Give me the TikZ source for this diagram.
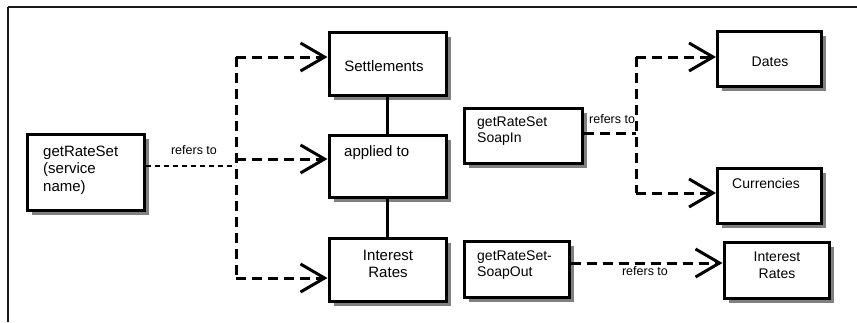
\documentclass[tikz,border=0pt]{standalone}
\usepackage{fontspec}
\setmainfont{Liberation Sans}
\usetikzlibrary{arrows.meta,shadows}
\begin{document}
\begin{tikzpicture}[x=1pt,y=-1pt,
  box/.style={draw, line width=3pt, fill=white, inner sep=0pt,
    drop shadow={shadow xshift=4.5pt, shadow yshift=-4.5pt, fill=gray, opacity=1}},
  txtA/.style={inner sep=0pt, align=left, font=\fontsize{15}{17.5}\selectfont},
  txtB/.style={inner sep=0pt, align=left, font=\fontsize{14}{16.5}\selectfont},
  txtAc/.style={inner sep=0pt, align=center, font=\fontsize{15}{17.5}\selectfont},
  txtBc/.style={inner sep=0pt, align=center, font=\fontsize{14}{16.5}\selectfont},
  lbl/.style={inner sep=0pt, font=\fontsize{12.5}{14}\selectfont},
  dref/.style={line width=3pt, dash pattern=on 10pt off 6pt},
  thinref/.style={line width=1.6pt, dash pattern=on 5pt off 4pt},
  arr/.style={-{Straight Barb[length=24pt,width=28pt]}},
  frameline/.style={line width=2.5pt, draw=black!90}
]
\useasboundingbox (0,0) rectangle (857,322);
\fill[white] (0,0) rectangle (857,322);
% frame
\draw[frameline] (8,7) -- (857,7);
\draw[frameline] (8,7) -- (8,322);

% left group
\node[box, minimum width=117pt, minimum height=76pt] (grs) at (86,172.5) {};
\node[txtA, anchor=west] (grsT) at (43,170) {getRateSet\\(service\\name)};

\node[box, minimum width=117pt, minimum height=63pt] (settle) at (387.5,63.5) {};
\node[txtAc] (settleT) at (384,66) {Settlements};

\node[box, minimum width=117pt, minimum height=62pt] (applied) at (387.5,166) {};
\node[txtA, anchor=west] (appliedT) at (344,153) {applied to};

\node[box, minimum width=117pt, minimum height=63pt] (irL) at (387.5,269.5) {};
\node[txtAc] (irLT) at (388,264) {Interest\\Rates};

\draw[line width=3pt] (settle) -- (applied);
\draw[line width=3pt] (applied) -- (irL);

% right group
\node[box, minimum width=104pt, minimum height=55pt] (dates) at (769.5,59) {};
\node[txtBc] (datesT) at (770,62) {Dates};

\node[box, minimum width=118pt, minimum height=55pt] (soapin) at (523,135.5) {};
\node[txtB, anchor=west] (soapinT) at (477,131) {getRateSet\\SoapIn};

\node[box, minimum width=104pt, minimum height=55pt] (curr) at (769.5,195.5) {};
\node[txtB, anchor=west] (currT) at (732,183) {Currencies};

\node[box, minimum width=105pt, minimum height=56pt] (soapout) at (516.5,269) {};
\node[txtB, anchor=west] (soapoutT) at (477,265) {getRateSet-\\SoapOut};

\node[box, minimum width=105pt, minimum height=56pt] (irR) at (776.5,270) {};
\node[txtBc] (irRT) at (777,265) {Interest\\Rates};

% left connectors
\coordinate (j0) at (236,166);
\coordinate (jt) at (236,57);
\coordinate (jm) at (236,159);
\coordinate (jb) at (236,278);
\draw[thinref] (grs.east |- j0) -- (j0);
\draw[dref] (jt) -- (jb);
\draw[dref, arr] (jt) -- (settle.west |- jt);
\draw[dref, arr] (jm) -- (applied.west |- jm);
\draw[dref, arr] (jb) -- (irL.west |- jb);
\node[lbl] (l1) at (194,150) {refers to};

% right connectors
\coordinate (k0) at (636,133);
\coordinate (kt) at (636,57);
\coordinate (kb) at (636,193);
\draw[dref] (soapin.east |- k0) -- (k0);
\draw[dref] (kt) -- (kb);
\draw[dref, arr] (kt) -- (dates.west |- kt);
\draw[dref, arr] (kb) -- (curr.west |- kb);
\node[lbl, anchor=west] (l2) at (589,119) {refers to};

\coordinate (m0) at (570,263);
\draw[dref, arr] (soapout.east |- m0) -- (irR.west |- m0);
\node[lbl] (l3) at (645,271) {refers to};
\end{tikzpicture}
\end{document}
